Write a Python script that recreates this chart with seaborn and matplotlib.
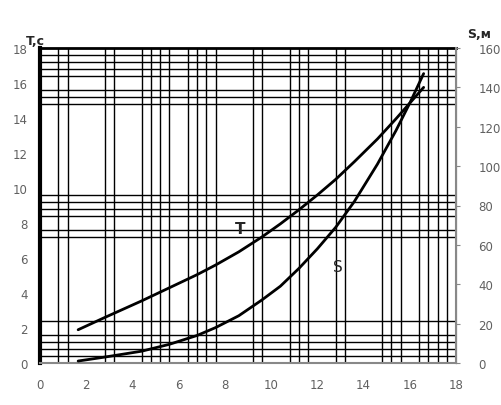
import numpy as np
import matplotlib
matplotlib.use('Agg')
import matplotlib.pyplot as plt
import seaborn as sns

# curve values
t_x = [1.65, 2.8, 4.4, 5.6, 6.8, 7.6, 8.6, 9.6, 10.4, 11.2, 12.0, 12.8, 13.6, 14.6, 15.4, 16.0, 16.6]
t_val = [1.9, 2.6, 3.55, 4.3, 5.05, 5.6, 6.35, 7.2, 7.95, 8.75, 9.6, 10.5, 11.5, 12.8, 13.95, 14.85, 15.75]

s_x = [1.65, 2.8, 4.4, 5.6, 6.8, 7.6, 8.6, 9.6, 10.4, 11.2, 12.0, 12.8, 13.6, 14.6, 15.4, 16.0, 16.6]
s_val = [1, 3, 6, 9.5, 14, 18, 24, 32, 39, 48, 58, 69, 82, 101, 118, 132, 147]

# grid lines of the chart paper
grid_x = [0.8, 1.2, 2.8, 3.2, 4.4, 4.8, 5.2, 5.6, 6.0, 6.4, 6.8, 7.2, 7.6,
          9.2, 9.6, 10.8, 11.2, 11.6, 12.8, 13.2,
          14.8, 15.2, 15.6, 16.0, 16.4, 16.8, 17.2, 17.6]
grid_y = [0.4, 0.8, 1.2, 1.6, 2.0, 2.4,
          7.2, 7.6, 8.0, 8.4, 8.8, 9.2, 9.6, 10.0,
          14.8, 15.2, 15.6, 16.0, 16.4, 16.8, 17.2, 17.6]

x_ticks = list(range(0, 19, 2))
t_ticks = list(range(0, 19, 2))
s_ticks = list(range(0, 161, 20))

sns.set_style('white')
plt.rcParams['font.family'] = ['DejaVu Sans']

fig = plt.figure(figsize=(5.01, 4.06), dpi=100)
ax = fig.add_axes([40 / 501, 42 / 406, 416 / 501, 315 / 406])
ax2 = ax.twinx()

# paper grid
ax.set_xticks(grid_x, minor=True)
ax.set_yticks(grid_y, minor=True)
ax.grid(which='minor', color='black', lw=1.0)
ax.grid(which='major', visible=False)
ax.set_axisbelow(True)

# curves
sns.lineplot(x=t_x, y=t_val, ax=ax, color='black', lw=2)
sns.lineplot(x=s_x, y=s_val, ax=ax2, color='black', lw=2)

ax.set_xlim(0, 18)
ax.set_ylim(0, 18)
ax2.set_ylim(0, 160)
ax.set_xticks(x_ticks)
ax.set_yticks(t_ticks)
ax2.set_yticks(s_ticks)

ax.tick_params(which='both', length=0, labelsize=8.5, labelcolor='#606060')
ax.tick_params(axis='x', pad=11)
ax.tick_params(axis='y', pad=9)
ax2.tick_params(axis='y', length=3, color='#888888', labelsize=8.5,
                labelcolor='#606060', pad=13)

# spines
for sp in ['left', 'top']:
    ax.spines[sp].set_color('black')
ax.spines['left'].set_linewidth(3)
ax.spines['top'].set_linewidth(2)
ax.spines['bottom'].set_color('#888888')
ax.spines['bottom'].set_linewidth(1.5)
ax2.spines['left'].set_visible(False)
ax2.spines['top'].set_visible(False)
ax2.spines['bottom'].set_visible(False)
ax2.spines['right'].set_color('#888888')
ax2.spines['right'].set_linewidth(1.5)

# curve labels and axis titles
ax.text(8.66, 7.66, 'T', fontsize=11, fontweight='bold', ha='center', va='center')
ax.text(12.9, 5.49, 'S', fontsize=11, ha='center', va='center')
ax.text(-0.012, 1.025, 'T,с', transform=ax.transAxes, fontsize=9,
        fontweight='bold', ha='center', va='center')
ax.text(1.055, 1.045, 'S,м', transform=ax.transAxes, fontsize=9,
        fontweight='bold', ha='center', va='center')

fig.savefig('out.png', dpi=100)
